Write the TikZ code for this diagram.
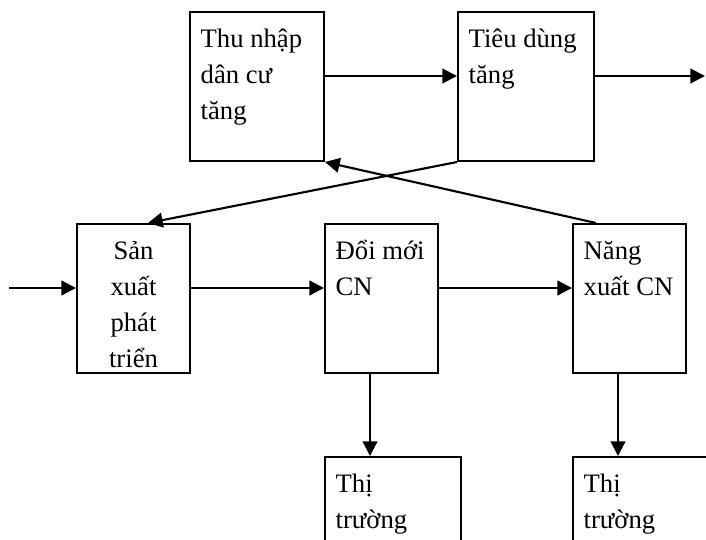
\documentclass[tikz,border=0pt]{standalone}
\usepackage{fontspec}
\setmainfont{Liberation Serif}
\usepackage{tikz}
\usetikzlibrary{arrows.meta, calc}

\newcommand{\boxtxt}[3]{\parbox[t][#2][t]{#1}{\rule{0pt}{22.6pt}#3}}

\begin{document}
\begin{tikzpicture}[
  x=0.75pt, y=-0.75pt,
  font=\fontsize{20}{27}\selectfont,
  box/.style={rectangle, draw=black, line width=1.5pt, fill=white,
              inner xsep=8pt, inner ysep=4pt},
  arr/.style={-{Triangle[length=11pt, width=11pt]}, line width=1.6pt}
]
  \useasboundingbox (0,0) rectangle (706,539);
  \clip (0,0) rectangle (706,539);

  % top row
  \node[box] (thunhap) at (257,86.5)
    {\boxtxt{84.5pt}{103.75pt}{Thu nhập\\dân cư\\tăng}};
  \node[box] (tieudung) at (526,86.5)
    {\boxtxt{86pt}{103.75pt}{Tiêu dùng\\tăng}};

  % middle row
  \node[box] (sanxuat) at (133.5,298.5)
    {\boxtxt{68.75pt}{103.75pt}{\centering Sản\\xuất\\phát\\triển}};
  \node[box] (doimoi) at (381.5,298.5)
    {\boxtxt{68.75pt}{103.75pt}{\mbox{Đổi mới}\\CN}};
  \node[box] (nangxuat) at (629.5,298.5)
    {\boxtxt{68.75pt}{103.75pt}{Năng\\\mbox{xuất CN}}};

  % bottom row (cut by the page edge)
  \node[box] (thitruong1) at (393,537)
    {\boxtxt{86pt}{112pt}{Thị\\trường}};
  \node[box] (thitruong2) at (641,537)
    {\boxtxt{86pt}{112pt}{Thị\\trường}};

  \coordinate (vao) at (9,288);
  \coordinate (ra) at (705,76);
  \coordinate (d1) at ($(doimoi.south)+(-11.5,0)$);
  \coordinate (d2) at ($(nangxuat.south)+(-11.5,0)$);

  \draw[arr] ($(thunhap.east)+(0,-10.5)$) -- ($(tieudung.west)+(0,-10.5)$);
  \draw[arr] ($(tieudung.east)+(0,-10.5)$) -- (ra);
  \draw[arr] (vao) -- ($(sanxuat.west)+(0,-10.5)$);
  \draw[arr] ($(sanxuat.east)+(0,-10.5)$) -- ($(doimoi.west)+(0,-10.5)$);
  \draw[arr] ($(doimoi.east)+(0,-10.5)$) -- ($(nangxuat.west)+(0,-10.5)$);

  \draw[arr] (tieudung.south west) -- ($(sanxuat.north)+(14.5,0)$);
  \draw[arr] ($(nangxuat.north)+(-33.5,0)$) -- (thunhap.south east);

  \draw[arr] (d1) -- (d1 |- thitruong1.north);
  \draw[arr] (d2) -- (d2 |- thitruong2.north);
\end{tikzpicture}
\end{document}
